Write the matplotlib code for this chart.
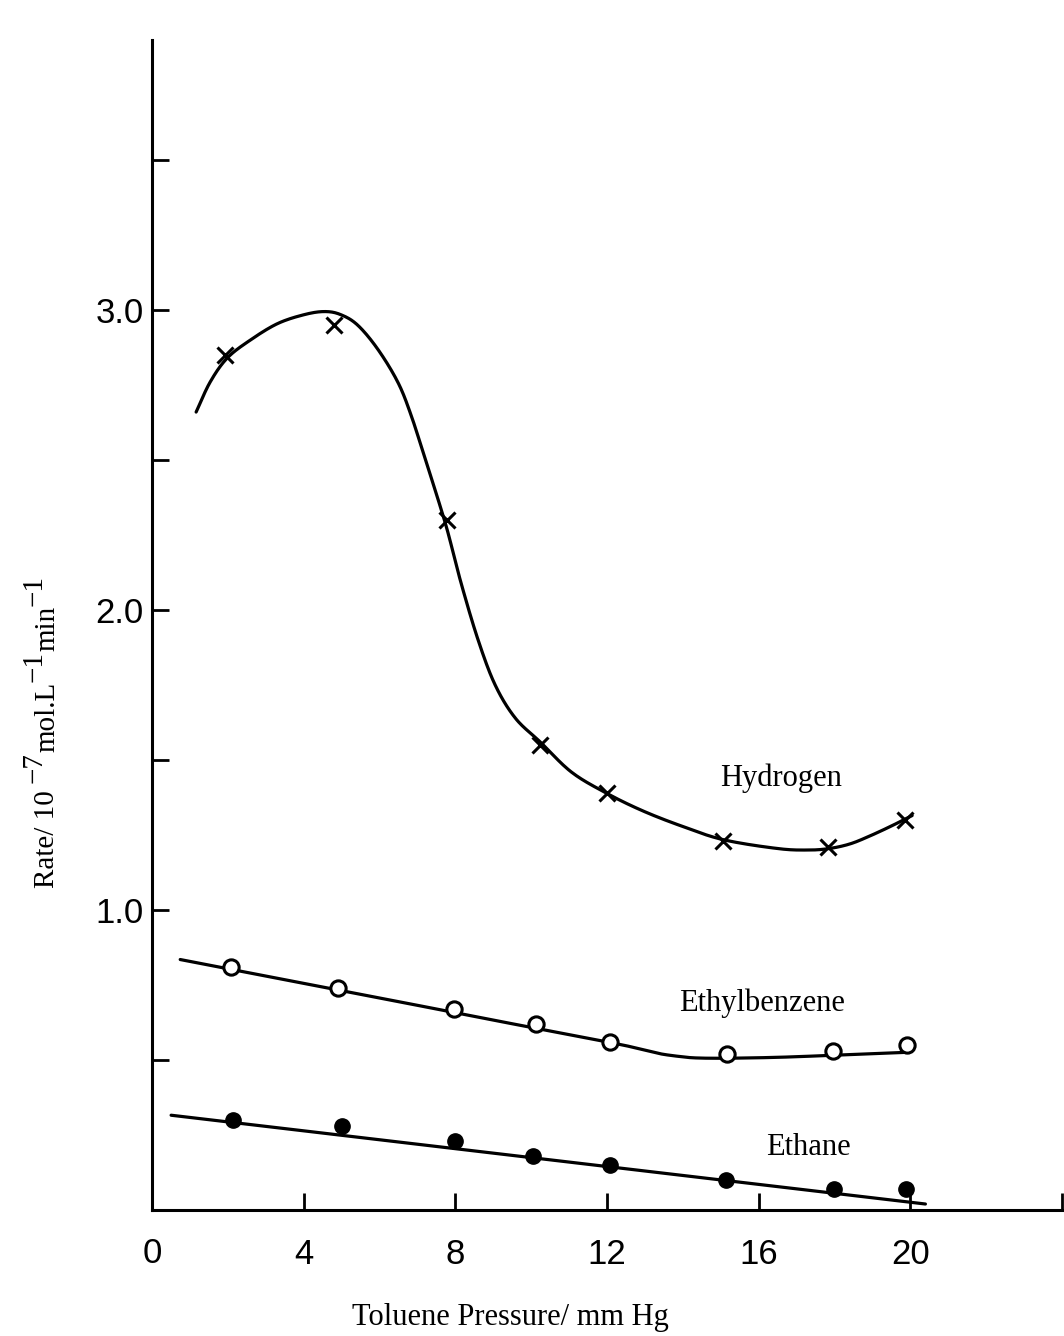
import matplotlib
matplotlib.use("Agg")
import matplotlib.pyplot as plt
import numpy as np

# Data points
h_x = [1.93, 4.81, 7.78, 10.24, 12.0, 15.05, 17.83, 19.87]
h_y = [2.85, 2.95, 2.30, 1.55, 1.39, 1.23, 1.21, 1.30]

eb_x = [2.09, 4.89, 7.96, 10.13, 12.09, 15.16, 17.96, 19.92]
eb_y = [0.81, 0.74, 0.67, 0.62, 0.56, 0.52, 0.53, 0.55]

et_x = [2.14, 5.0, 7.99, 10.05, 12.09, 15.13, 17.99, 19.89]
et_y = [0.30, 0.28, 0.23, 0.18, 0.15, 0.10, 0.07, 0.07]

# Fitted curves
h_cx = [1.16, 1.53, 1.98, 2.59, 3.31, 4.02, 4.55, 4.97, 5.42, 5.95, 6.48, 6.83,
        7.2, 7.54, 7.8, 8.15, 8.6, 9.05, 9.58, 10.24, 11.06, 11.98, 12.9, 13.9,
        15.05, 16.5, 17.3, 17.86, 18.4, 18.9, 19.5, 20.05]
h_cy = [2.66, 2.76, 2.84, 2.90, 2.955, 2.985, 2.995, 2.985, 2.95, 2.87, 2.76, 2.65,
        2.505, 2.37, 2.26, 2.09, 1.90, 1.75, 1.64, 1.56, 1.46, 1.39, 1.333, 1.283,
        1.235, 1.205, 1.20, 1.205, 1.22, 1.245, 1.28, 1.315]

eb_cx = [0.74, 3.0, 6.0, 9.0, 11.0, 12.3, 12.7, 13.1, 13.44, 13.9, 14.34, 15.13,
         16.5, 18.0, 19.97]
eb_cy = [0.835, 0.780, 0.707, 0.633, 0.585, 0.553, 0.542, 0.530, 0.520, 0.512,
         0.507, 0.506, 0.509, 0.516, 0.526]

et_cx = [0.5, 20.4]
et_cy = [0.316, 0.02]

x_ticks = [4, 8, 12, 16, 20, 24]
x_tick_labels = ["4", "8", "12", "16", "20", ""]
y_ticks = [0.5, 1.0, 1.5, 2.0, 2.5, 3.0, 3.5]
y_tick_labels = ["", "1.0", "", "2.0", "", "3.0", ""]

ylabel_parts = [("Rate/ 10 ", False), ("\u22127", True), ("mol.L", False),
                ("\u22121", True), ("min", False), ("\u22121", True)]


def smooth(xs, ys, n=20):
    """Catmull-Rom rendering of a traced curve (drawing only)."""
    p = np.column_stack([xs, ys]).astype(float)
    if len(p) < 3:
        return p[:, 0], p[:, 1]
    p = np.vstack([2 * p[0] - p[1], p, 2 * p[-1] - p[-2]])
    out = []
    t = np.linspace(0, 1, n, endpoint=False)[:, None]
    for i in range(1, len(p) - 2):
        p0, p1, p2, p3 = p[i - 1], p[i], p[i + 1], p[i + 2]
        seg = 0.5 * ((2 * p1) + (-p0 + p2) * t + (2 * p0 - 5 * p1 + 4 * p2 - p3) * t ** 2
                     + (-p0 + 3 * p1 - 3 * p2 + p3) * t ** 3)
        out.append(seg)
    out.append(p[-2][None, :])
    out = np.vstack(out)
    return out[:, 0], out[:, 1]


fig = plt.figure(figsize=(10.64, 13.36), dpi=100)
ax = fig.add_axes([0.143, 0.0943, 0.998 - 0.143, 0.970 - 0.0943])
ax.set_xlim(0, 24)
ax.set_ylim(0, 3.9)

lw = 2.3
for cx, cy in [(h_cx, h_cy), (eb_cx, eb_cy), (et_cx, et_cy)]:
    sx, sy = smooth(cx, cy)
    ax.plot(sx, sy, color='black', lw=lw, solid_capstyle='round')

ax.plot(h_x, h_y, linestyle='none', marker='x', markersize=12, mew=2.2, color='black')
ax.plot(eb_x, eb_y, linestyle='none', marker='o', markersize=11, mew=2.2,
        markerfacecolor='white', markeredgecolor='black')
ax.plot(et_x, et_y, linestyle='none', marker='o', markersize=11,
        markerfacecolor='black', markeredgecolor='black')

for s in ['top', 'right']:
    ax.spines[s].set_visible(False)
for s in ['left', 'bottom']:
    ax.spines[s].set_linewidth(2.2)

tick_font = 'Liberation Sans'
ax.set_xticks(x_ticks)
ax.set_xticklabels(x_tick_labels, fontfamily=tick_font, fontsize=25)
ax.set_yticks(y_ticks)
ax.set_yticklabels(y_tick_labels, fontfamily=tick_font, fontsize=25)
ax.tick_params(axis='both', direction='in', length=12, width=2)
ax.tick_params(axis='x', pad=20)
ax.tick_params(axis='y', pad=6)

# the "0" label at the origin
ax.text(0, -0.145, "0", ha='center', va='center', fontsize=25,
        fontfamily=tick_font, clip_on=False)

serif = 'Liberation Serif'
ax.text(16.6, 1.44, "Hydrogen", fontsize=22, fontfamily=serif, ha='center', va='center')
ax.text(16.1, 0.69, "Ethylbenzene", fontsize=22, fontfamily=serif, ha='center', va='center')
ax.text(17.3, 0.21, "Ethane", fontsize=22, fontfamily=serif, ha='center', va='center')

fig.text(510 / 1064, 1 - 1318 / 1336, "Toluene Pressure/ mm Hg", fontsize=22,
         fontfamily=serif, ha='center', va='center')

# y label assembled from pieces (full-size raised exponents)
renderer = fig.canvas.get_renderer()
W, H = 1064, 1336
base_x = 54.0      # pixel x of baseline of main text
y_cursor = 888.0   # pixel y (from top) of start (bottom) of the label
raise_px = 12.0
for txt, sup in ylabel_parts:
    xpx = base_x - (raise_px if sup else 0)
    t = fig.text(xpx / W, 1 - y_cursor / H, txt, fontsize=21, fontfamily=serif,
                 rotation=90, rotation_mode='anchor', ha='left', va='baseline')
    bb = t.get_window_extent(renderer=renderer)
    y_cursor -= bb.height

fig.savefig("out.png", dpi=100)
